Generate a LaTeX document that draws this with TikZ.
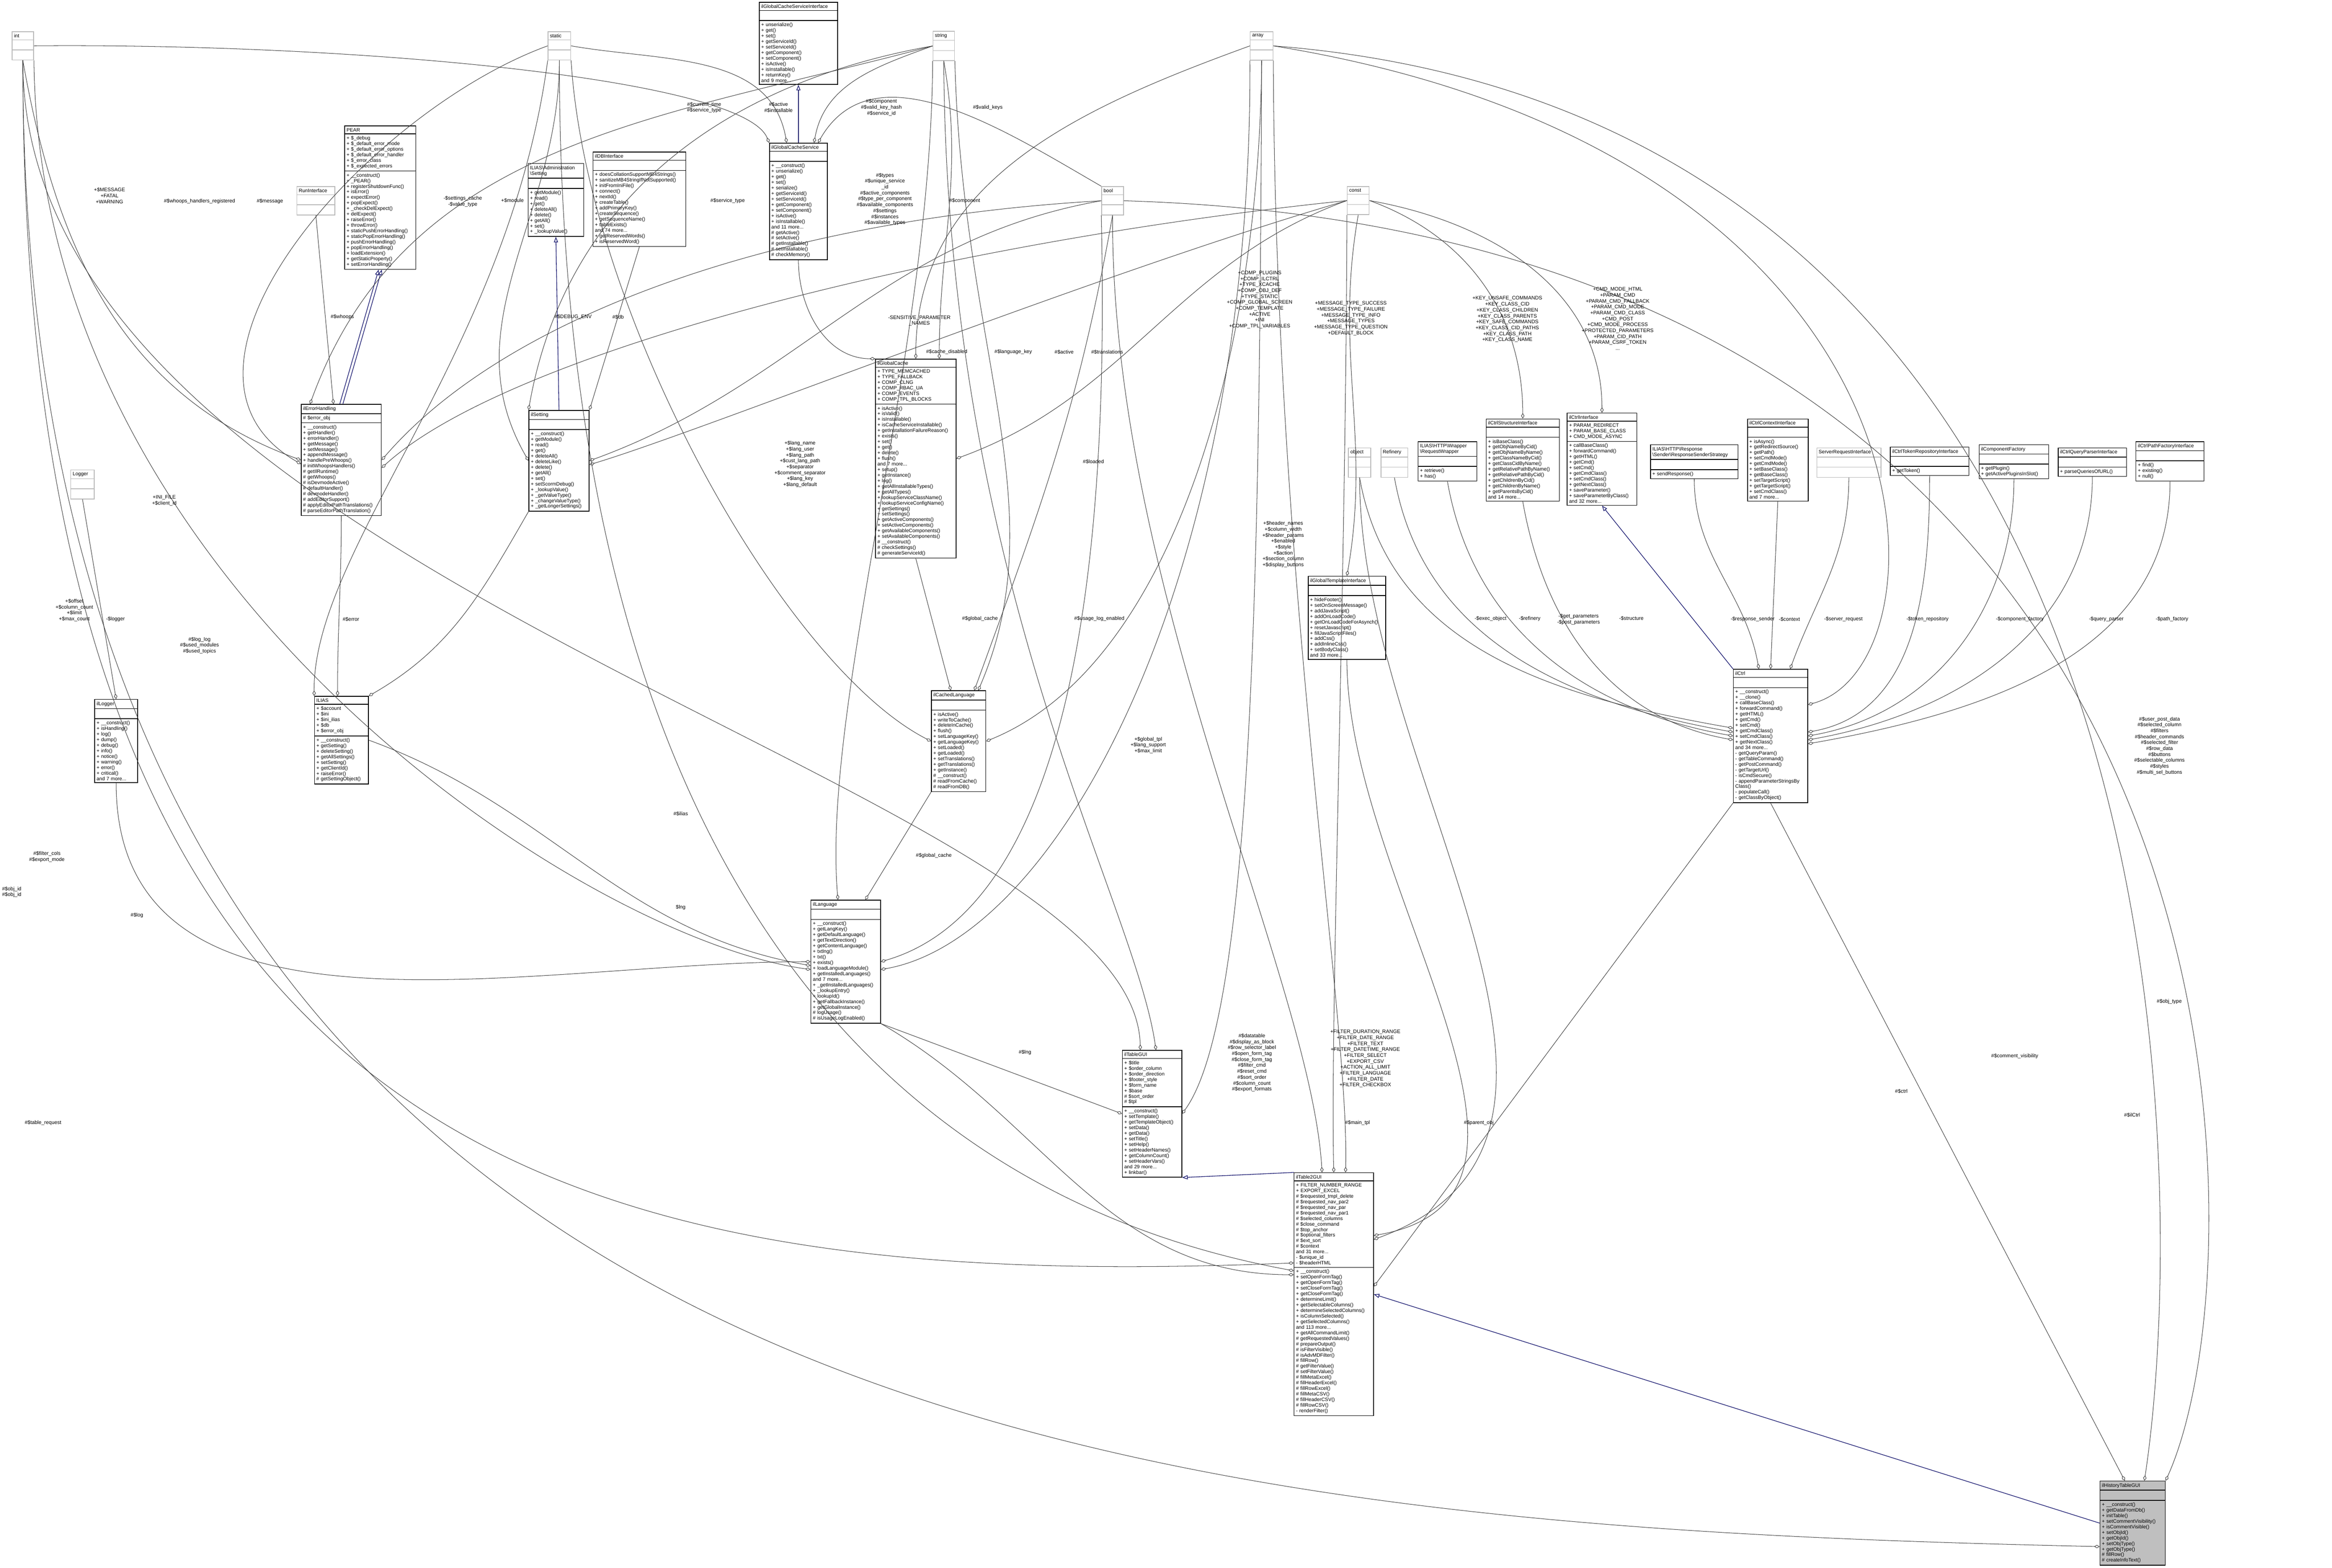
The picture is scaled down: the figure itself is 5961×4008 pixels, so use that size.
\documentclass[tikz,border=0pt]{standalone}
\usepackage{fontspec}
\setmainfont{Liberation Sans}
\usetikzlibrary{shapes.multipart,arrows.meta}
\definecolor{inh}{HTML}{191970}
\tikzset{
  cls/.style={rectangle split,rectangle split parts=3,draw=black,line width=0.5pt,
    anchor=north west,inner sep=1.4pt,font=\fontsize{3.6}{4.05}\selectfont,
    rectangle split part align={center,left,left},fill=white},
  gcls/.style={cls,draw=gray!55},
  agg/.style={draw=black!75,line width=0.35pt,-{Diamond[open,length=4pt,width=2.4pt]}},
  inhe/.style={draw=inh,line width=0.45pt,-{Triangle[open,length=4pt,width=3pt]}},
  lbl/.style={font=\fontsize{3.7}{4.3}\selectfont,align=center,inner sep=0.5pt}
}
\newcommand\cls[7]{\pgfmathsetlengthmacro\tw{#4*0.01cm-2.8pt}%
  \node[cls,text width=\tw] (#1) at (#2,#3) {#5\nodepart{two}#6\nodepart{three}#7};}
\newcommand\gcls[5]{\pgfmathsetlengthmacro\tw{#4*0.01cm-2.8pt}%
  \node[gcls,text width=\tw] (#1) at (#2,#3) {#5\nodepart{two}\strut\nodepart{three}\strut};}
\newcommand\bs{\textbackslash}
\begin{document}
\begin{tikzpicture}[x=0.01cm,y=-0.01cm]
\useasboundingbox (0,0) rectangle (5961,4008);
% ---------- gray type boxes
\gcls{int}{30}{80}{55}{int}
\gcls{static}{1400}{80}{58}{static}
\gcls{string}{2384}{79}{55}{string}
\gcls{array}{3195}{80}{58}{array}
\gcls{bool}{2815}{476}{56}{bool}
\gcls{const}{3443}{476}{56}{const}
\gcls{run}{758}{476}{97}{RunInterface}
\gcls{logger}{180}{1200}{60}{Logger}
\gcls{object}{3446}{1144}{57}{object}
\gcls{refinery}{3529}{1144}{69}{Refinery}
\gcls{server}{4643}{1144}{164}{ServerRequestInterface}
% ---------- classes
\cls{gcsi}{1940}{5}{200}{ilGlobalCacheServiceInterface}{\strut}{+ unserialize()\\+ get()\\+ set()\\+ getServiceId()\\+ setServiceId()\\+ getComponent()\\+ setComponent()\\+ isActive()\\+ isInstallable()\\+ returnKey()\\and 9 more...}
\cls{gcs}{1966}{365}{148}{ilGlobalCacheService}{\strut}{+ \_\_construct()\\+ unserialize()\\+ get()\\+ set()\\+ serialize()\\+ getServiceId()\\+ setServiceId()\\+ getComponent()\\+ setComponent()\\+ isActive()\\+ isInstallable()\\and 11 more...\\\# getActive()\\\# setActive()\\\# getInstallable()\\\# setInstallable()\\\# checkMemory()}
\cls{pear}{880}{321}{182}{PEAR}{+ \$\_debug\\+ \$\_default\_error\_mode\\+ \$\_default\_error\_options\\+ \$\_default\_error\_handler\\+ \$\_error\_class\\+ \$\_expected\_errors}{+ \_\_construct()\\+ \_PEAR()\\+ registerShutdownFunc()\\+ isError()\\+ expectError()\\+ popExpect()\\+ \_checkDelExpect()\\+ delExpect()\\+ raiseError()\\+ throwError()\\+ staticPushErrorHandling()\\+ staticPopErrorHandling()\\+ pushErrorHandling()\\+ popErrorHandling()\\+ loadExtension()\\+ getStaticProperty()\\+ setErrorHandling()}
\cls{admset}{1349}{417}{142}{ILIAS\bs Administration\\\bs Setting}{\strut}{+ getModule()\\+ read()\\+ get()\\+ deleteAll()\\+ delete()\\+ getAll()\\+ set()\\+ \_lookupValue()}
\cls{dbi}{1515}{388}{237}{ilDBInterface}{\strut}{+ doesCollationSupportMB4Strings()\\+ sanitizeMB4StringIfNotSupported()\\+ initFromIniFile()\\+ connect()\\+ nextId()\\+ createTable()\\+ addPrimaryKey()\\+ createSequence()\\+ getSequenceName()\\+ tableExists()\\and 74 more...\\+ getReservedWords()\\+ isReservedWord()}
\cls{err}{769}{1033}{205}{ilErrorHandling}{\# \$error\_obj}{+ \_\_construct()\\+ getHandler()\\+ errorHandler()\\+ getMessage()\\+ setMessage()\\+ appendMessage()\\+ handlePreWhoops()\\\# initWhoopsHandlers()\\\# getIlRuntime()\\\# getWhoops()\\\# isDevmodeActive()\\\# defaultHandler()\\\# devmodeHandler()\\\# addEditorSupport()\\\# applyEditorPathTranslations()\\\# parseEditorPathTranslation()}
\cls{set}{1351}{1048}{154}{ilSetting}{\strut}{+ \_\_construct()\\+ getModule()\\+ read()\\+ get()\\+ deleteAll()\\+ deleteLike()\\+ delete()\\+ getAll()\\+ set()\\+ setScormDebug()\\+ \_lookupValue()\\+ \_getValueType()\\+ \_changeValueType()\\+ \_getLongerSettings()}
\cls{gc}{2237}{917}{206}{ilGlobalCache}{+ TYPE\_MEMCACHED\\+ TYPE\_FALLBACK\\+ COMP\_CLNG\\+ COMP\_RBAC\_UA\\+ COMP\_EVENTS\\+ COMP\_TPL\_BLOCKS}{+ isActive()\\+ isValid()\\+ isInstallable()\\+ isCacheServiceInstallable()\\+ getInstallationFailureReason()\\+ exists()\\+ set()\\+ get()\\+ delete()\\+ flush()\\and 7 more...\\+ setup()\\+ getInstance()\\+ log()\\+ getAllInstallableTypes()\\+ getAllTypes()\\+ lookupServiceClassName()\\+ lookupServiceConfigName()\\+ getSettings()\\+ setSettings()\\+ getActiveComponents()\\+ setActiveComponents()\\+ getAvailableComponents()\\+ setAvailableComponents()\\\# \_\_construct()\\\# checkSettings()\\\# generateServiceId()}
\cls{logr}{241}{1787}{110}{ilLogger}{\strut}{+ \_\_construct()\\+ isHandling()\\+ log()\\+ dump()\\+ debug()\\+ info()\\+ notice()\\+ warning()\\+ error()\\+ critical()\\and 7 more...}
\cls{ilias}{803}{1779}{138}{ILIAS}{+ \$account\\+ \$ini\\+ \$ini\_ilias\\+ \$db\\+ \$error\_obj}{+ \_\_construct()\\+ getSetting()\\+ deleteSetting()\\+ getAllSettings()\\+ setSetting()\\+ getClientId()\\+ raiseError()\\\# getSettingObject()}
\cls{clang}{2380}{1765}{139}{ilCachedLanguage}{\strut}{+ isActive()\\+ writeToCache()\\+ deleteInCache()\\+ flush()\\+ setLanguageKey()\\+ getLanguageKey()\\+ setLoaded()\\+ getLoaded()\\+ setTranslations()\\+ getTranslations()\\+ getInstance()\\\# \_\_construct()\\\# readFromCache()\\\# readFromDB()}
\cls{lang}{2072}{2300}{178}{ilLanguage}{\strut}{+ \_\_construct()\\+ getLangKey()\\+ getDefaultLanguage()\\+ getTextDirection()\\+ getContentLanguage()\\+ txtlng()\\+ txt()\\+ exists()\\+ loadLanguageModule()\\+ getInstalledLanguages()\\and 7 more...\\+ \_getInstalledLanguages()\\+ \_lookupEntry()\\+ lookupId()\\+ getFallbackInstance()\\+ getGlobalInstance()\\\# logUsage()\\\# isUsageLogEnabled()}
\cls{tgui}{2868}{2684}{152}{ilTableGUI}{+ \$title\\+ \$order\_column\\+ \$order\_direction\\+ \$footer\_style\\+ \$form\_name\\+ \$base\\\# \$sort\_order\\\# \$tpl}{+ \_\_construct()\\+ setTemplate()\\+ getTemplateObject()\\+ setData()\\+ getData()\\+ setTitle()\\+ setHelp()\\+ setHeaderNames()\\+ getColumnCount()\\+ setHeaderVars()\\and 29 more...\\+ linkbar()}
\cls{t2gui}{3307}{2997}{203}{ilTable2GUI}{+ FILTER\_NUMBER\_RANGE\\+ EXPORT\_EXCEL\\\# \$requested\_tmpl\_delete\\\# \$requested\_nav\_par2\\\# \$requested\_nav\_par\\\# \$requested\_nav\_par1\\\# \$selected\_columns\\\# \$close\_command\\\# \$top\_anchor\\\# \$optional\_filters\\\# \$ext\_sort\\\# \$context\\and 31 more...\\- \$unique\_id\\- \$headerHTML}{+ \_\_construct()\\+ setOpenFormTag()\\+ getOpenFormTag()\\+ setCloseFormTag()\\+ getCloseFormTag()\\+ determineLimit()\\+ getSelectableColumns()\\+ determineSelectedColumns()\\+ isColumnSelected()\\+ getSelectedColumns()\\and 113 more...\\+ getAllCommandLimit()\\\# getRequestedValues()\\\# prepareOutput()\\\# isFilterVisible()\\\# isAdvMDFilter()\\\# fillRow()\\\# getFilterValue()\\\# setFilterValue()\\\# fillMetaExcel()\\\# fillHeaderExcel()\\\# fillRowExcel()\\\# fillMetaCSV()\\\# fillHeaderCSV()\\\# fillRowCSV()\\- renderFilter()}
\cls{gti}{3343}{1472}{198}{ilGlobalTemplateInterface}{\strut}{+ hideFooter()\\+ setOnScreenMessage()\\+ addJavaScript()\\+ addOnLoadCode()\\+ getOnLoadCodeForAsynch()\\+ resetJavascript()\\+ fillJavaScriptFiles()\\+ addCss()\\+ addInlineCss()\\+ setBodyClass()\\and 33 more...}
\cls{reqw}{3624}{1128}{150}{ILIAS\bs HTTP\bs Wrapper\\\bs RequestWrapper}{\strut}{+ retrieve()\\+ has()}
\cls{csi}{3798}{1070}{187}{ilCtrlStructureInterface}{\strut}{+ isBaseClass()\\+ getObjNameByCid()\\+ getObjNameByName()\\+ getClassNameByCid()\\+ getClassCidByName()\\+ getRelativePathByName()\\+ getRelativePathByCid()\\+ getChildrenByCid()\\+ getChildrenByName()\\+ getParentsByCid()\\and 14 more...}
\cls{cif}{4005}{1055}{178}{ilCtrlInterface}{+ PARAM\_REDIRECT\\+ PARAM\_BASE\_CLASS\\+ CMD\_MODE\_ASYNC}{+ callBaseClass()\\+ forwardCommand()\\+ getHTML()\\+ getCmd()\\+ setCmd()\\+ getCmdClass()\\+ setCmdClass()\\+ getNextClass()\\+ saveParameter()\\+ saveParameterByClass()\\and 32 more...}
\cls{resp}{4218}{1136}{224}{ILIAS\bs HTTP\bs Response\\\bs Sender\bs ResponseSenderStrategy}{\strut}{+ sendResponse()}
\cls{ctx}{4466}{1070}{155}{ilCtrlContextInterface}{\strut}{+ isAsync()\\+ getRedirectSource()\\+ getPath()\\+ setCmdMode()\\+ getCmdMode()\\+ setBaseClass()\\+ getBaseClass()\\+ setTargetScript()\\+ getTargetScript()\\+ setCmdClass()\\and 7 more...}
\cls{tok}{4831}{1142}{201}{ilCtrlTokenRepositoryInterface}{\strut}{+ getToken()}
\cls{cfac}{5058}{1136}{178}{ilComponentFactory}{\strut}{+ getPlugin()\\+ getActivePluginsInSlot()}
\cls{qp}{5260}{1144}{175}{ilCtrlQueryParserInterface}{\strut}{+ parseQueriesOfURL()}
\cls{pf}{5459}{1128}{174}{ilCtrlPathFactoryInterface}{\strut}{+ find()\\+ existing()\\+ null()}
\cls{ctrl}{4430}{1710}{190}{ilCtrl}{\strut}{+ \_\_construct()\\+ \_\_clone()\\+ callBaseClass()\\+ forwardCommand()\\+ getHTML()\\+ getCmd()\\+ setCmd()\\+ getCmdClass()\\+ setCmdClass()\\+ getNextClass()\\and 34 more...\\- getQueryParam()\\- getTableCommand()\\- getPostCommand()\\- getTargetUrl()\\- isCmdSecure()\\- appendParameterStringsBy\\Class()\\- populateCall()\\- getClassByObject()}
\pgfmathsetlengthmacro\tw{167*0.01cm-2.8pt}
\node[cls,fill=black!25,text width=\tw] (hist) at (5367,3785) {ilHistoryTableGUI\nodepart{two}\strut\nodepart{three}+ \_\_construct()\\+ getDataFromDb()\\+ initTable()\\+ setCommentVisibility()\\+ isCommentVisible()\\+ setObjId()\\+ getObjId()\\+ setObjType()\\+ getObjType()\\\# fillRow()\\\# createInfoText()};
% ---------- inheritance
\draw[inhe] (gcs.north) -- (gcsi.south);
\draw[inhe] ([xshift=-0.04cm]err.north) -- ([xshift=-0.04cm]pear.south);
\draw[inhe] ([xshift=0.04cm]err.north) -- ([xshift=0.04cm]pear.south);
\draw[inhe] (set.north) -- (admset.south);
\draw[inhe] (t2gui.north west) -- (tgui.south east);
\draw[inhe] (ctrl.north west) -- (cif.south);
\draw[inhe] (hist.west) -- (t2gui.east);
% ---------- aggregations: top area
\draw[agg] (int.east) .. controls (900,110) and (1900,200) .. (gcs.north west);
\draw[agg] (static.east) to[out=-10,in=100] ([xshift=-0.3cm]gcs.north);
\draw[agg] (string.west) to[out=200,in=80] ([xshift=0.4cm]gcs.north);
\draw[agg] (bool.north west) to[out=150,in=60] ([xshift=0.5cm]gcs.north);
\draw[agg] (gcs.south) to[out=-90,in=180] (gc.north west);
\draw[agg] (array.west) to[out=200,in=90] (gc.north);
\draw[agg] (string.south) to[out=-80,in=90] ([xshift=0.6cm]gc.north);
\draw[agg] (const.west) to[out=200,in=20] (gc.east);
\draw[agg] (string.west) to[out=190,in=80] (set.north west);
\draw[agg] (static.south) to[out=-90,in=120] (set.west);
\draw[agg] (dbi.south) -- (set.north east);
\draw[agg] (bool.west) to[out=190,in=20] (set.east);
\draw[agg] (const.west) .. controls (2800,700) and (1800,1100) .. ([yshift=-0.1cm]set.east);
\draw[agg] (run.south) -- ([xshift=-0.2cm]err.north);
\draw[agg] (int.south) to[out=-80,in=160] (err.west);
\draw[agg] (string.west) to[out=195,in=70] ([xshift=-0.8cm]err.north);
\draw[agg] (static.west) to[out=200,in=150] ([yshift=-0.1cm]err.west);
\draw[agg] (bool.west) .. controls (2000,560) and (1300,800) .. (err.east);
\draw[agg] (const.west) .. controls (2400,620) and (1300,900) .. ([yshift=-0.2cm]err.east);
% ---------- left middle
\draw[agg] (err.south) to[out=-90,in=90] ([xshift=-0.1cm]ilias.north);
\draw[agg] (set.south west) to[out=-120,in=30] (ilias.north east);
\draw[agg] (static.south west) .. controls (1300,900) and (800,1400) .. (ilias.north west);
\draw[agg] (logger.south) -- (logr.north);
\draw[agg] (logr.south) to[out=-90,in=180] (lang.west);
\draw[agg] (ilias.east) to[out=-20,in=170] ([yshift=-0.1cm]lang.west);
\draw[agg] (int.south east) .. controls (100,1500) and (1500,2400) .. ([yshift=-0.2cm]lang.west);
\draw[agg] (gc.south) -- ([xshift=-0.2cm]clang.north);
\draw[agg] (bool.south) to[out=-100,in=70] ([xshift=0.4cm]clang.north);
\draw[agg] (string.south east) .. controls (2460,900) and (2700,1300) .. ([xshift=0.5cm]clang.north);
\draw[agg] (static.south east) .. controls (1500,800) and (2000,1700) .. (clang.west);
\draw[agg] (array.south) .. controls (3220,900) and (3000,1700) .. (clang.east);
\draw[agg] (clang.south west) -- ([xshift=0.5cm]lang.north);
\draw[agg] (string.south west) .. controls (2380,900) and (2100,1800) .. ([xshift=-0.2cm]lang.north);
\draw[agg] (bool.south west) .. controls (2830,1200) and (2800,2300) .. (lang.east);
\draw[agg] (array.south west) .. controls (3200,1500) and (2700,2400) .. ([yshift=-0.2cm]lang.east);
% ---------- tables
\draw[agg] (int.south) .. controls (57,1500) and (2900,2000) .. ([xshift=-0.3cm]tgui.north);
\draw[agg] (string.south) .. controls (2420,1500) and (2900,2300) .. ([xshift=0.1cm]tgui.north);
\draw[agg] (array.south) .. controls (3220,1500) and (3200,2600) .. (tgui.east);
\draw[agg] (lang.south east) -- (tgui.west);
\draw[agg] (bool.south) .. controls (2840,1500) and (3350,2500) .. ([xshift=-0.3cm]t2gui.north);
\draw[agg] (const.south west) .. controls (3440,1500) and (3400,2600) .. (t2gui.north);
\draw[agg] (array.south east) .. controls (3260,1500) and (3450,2600) .. ([xshift=0.3cm]t2gui.north);
\draw[agg] (gti.south) to[out=-90,in=10] ([yshift=1.5cm]t2gui.east);
\draw[agg] (object.south) to[out=-90,in=20] ([yshift=1.4cm]t2gui.east);
\draw[agg] (ctrl.south west) -- ([yshift=0.2cm]t2gui.east);
\draw[agg] (lang.south east) to[out=-30,in=180] ([yshift=0.5cm]t2gui.west);
\draw[agg] (int.south) .. controls (57,3000) and (1500,3300) .. ([yshift=0.8cm]t2gui.west);
\draw[agg] (static.south) .. controls (1430,2500) and (2500,3100) .. ([yshift=0.6cm]t2gui.west);
% ---------- ilCtrl
\draw[agg] (object.south) to[out=-80,in=170] ([yshift=0.2cm]ctrl.west);
\draw[agg] (refinery.south) to[out=-80,in=170] ([yshift=0.1cm]ctrl.west);
\draw[agg] (reqw.south) to[out=-80,in=170] (ctrl.west);
\draw[agg] (csi.south) to[out=-80,in=170] ([yshift=-0.1cm]ctrl.west);
\draw[agg] (resp.south) to[out=-90,in=100] ([xshift=-0.3cm]ctrl.north);
\draw[agg] (ctx.south) -- (ctrl.north);
\draw[agg] (server.south) to[out=-90,in=70] ([xshift=0.5cm]ctrl.north);
\draw[agg] (tok.south) to[out=-90,in=10] ([yshift=0.1cm]ctrl.east);
\draw[agg] (cfac.south) to[out=-90,in=10] (ctrl.east);
\draw[agg] (qp.south) to[out=-90,in=10] ([yshift=-0.1cm]ctrl.east);
\draw[agg] (pf.south) to[out=-90,in=10] ([yshift=-0.2cm]ctrl.east);
\draw[agg] (const.east) to[out=-20,in=90] (csi.north);
\draw[agg] (const.east) to[out=-10,in=90] (cif.north);
\draw[agg] (const.south) to[out=-100,in=80] (gti.north);
\draw[agg] (array.east) .. controls (5000,400) and (5000,1700) .. ([yshift=0.8cm]ctrl.east);
% ---------- ilHistoryTableGUI
\draw[agg] (ctrl.south) -- ([xshift=-0.2cm]hist.north);
\draw[agg] (int.south) .. controls (57,3700) and (3000,3900) .. ([yshift=-0.6cm]hist.west);
\draw[agg] (array.east) .. controls (5600,300) and (5600,3000) .. ([xshift=0.3cm]hist.north);
\draw[agg] (bool.east) .. controls (5800,600) and (5800,3200) .. (hist.north east);
% ---------- labels
\node[lbl] at (1800,275) {\#\$current\_time\\\#\$service\_type};
\node[lbl] at (1990,275) {\#\$active\\\#\$installable};
\node[lbl] at (2253,275) {\#\$component\\\#\$valid\_key\_hash\\\#\$service\_id};
\node[lbl] at (2525,275) {\#\$valid\_keys};
\node[lbl,anchor=north] at (2262,440) {\#\$types\\\#\$unique\_service\\\_id\\\#\$active\_components\\\#\$type\_per\_component\\\#\$available\_components\\\#\$settings\\\#\$instances\\\#\$available\_types};
\node[lbl] at (2466,513) {\#\$component};
\node[lbl] at (1860,513) {\#\$service\_type};
\node[lbl] at (280,500) {+\$MESSAGE\\+FATAL\\+WARNING};
\node[lbl] at (510,515) {\#\$whoops\_handlers\_registered};
\node[lbl] at (690,515) {\#\$message};
\node[lbl] at (1183,515) {-\$settings\_cache\\-\$value\_type};
\node[lbl] at (1310,512) {+\$module};
\node[lbl] at (875,810) {\#\$whoops};
\node[lbl] at (1465,810) {\#\$DEBUG\_ENV};
\node[lbl] at (1580,810) {\#\$db};
\node[lbl] at (2350,820) {-SENSITIVE\_PARAMETER\\\_NAMES};
\node[lbl,anchor=north] at (3220,690) {+COMP\_PLUGINS\\+COMP\_ILCTRL\\+TYPE\_XCACHE\\+COMP\_OBJ\_DEF\\+TYPE\_STATIC\\+COMP\_GLOBAL\_SCREEN\\+COMP\_TEMPLATE\\+ACTIVE\\+INI\\+COMP\_TPL\_VARIABLES};
\node[lbl,anchor=north] at (3453,768) {+MESSAGE\_TYPE\_SUCCESS\\+MESSAGE\_TYPE\_FAILURE\\+MESSAGE\_TYPE\_INFO\\+MESSAGE\_TYPES\\+MESSAGE\_TYPE\_QUESTION\\+DEFAULT\_BLOCK};
\node[lbl,anchor=north] at (3853,755) {+KEY\_UNSAFE\_COMMANDS\\+KEY\_CLASS\_CID\\+KEY\_CLASS\_CHILDREN\\+KEY\_CLASS\_PARENTS\\+KEY\_SAFE\_COMMANDS\\+KEY\_CLASS\_CID\_PATHS\\+KEY\_CLASS\_PATH\\+KEY\_CLASS\_NAME};
\node[lbl,anchor=north] at (4135,732) {+CMD\_MODE\_HTML\\+PARAM\_CMD\\+PARAM\_CMD\_FALLBACK\\+PARAM\_CMD\_MODE\\+PARAM\_CMD\_CLASS\\+CMD\_POST\\+CMD\_MODE\_PROCESS\\+PROTECTED\_PARAMETERS\\+PARAM\_CID\_PATH\\+PARAM\_CSRF\_TOKEN\\...};
\node[lbl] at (2420,900) {\#\$cache\_disabled};
\node[lbl] at (2590,900) {\#\$language\_key};
\node[lbl] at (2720,900) {\#\$active};
\node[lbl] at (2830,900) {\#\$translations};
\node[lbl] at (420,1280) {+INI\_FILE\\+\$client\_id};
\node[lbl] at (510,1650) {\#\$log\_log\\\#\$used\_modules\\\#\$used\_topics};
\node[lbl] at (190,1560) {+\$offset\\+\$column\_count\\+\$limit\\+\$max\_count};
\node[lbl] at (295,1583) {-\$logger};
\node[lbl] at (897,1583) {\#\$error};
\node[lbl] at (120,2190) {\#\$filter\_cols\\\#\$export\_mode};
\node[lbl,anchor=north] at (2045,1125) {+\$lang\_name\\+\$lang\_user\\+\$lang\_path\\+\$cust\_lang\_path\\+\$separator\\+\$comment\_separator\\+\$lang\_key\\+\$lang\_default};
\node[lbl] at (2505,1582) {\#\$global\_cache};
\node[lbl] at (2795,1180) {\#\$loaded};
\node[lbl] at (2810,1582) {\#\$usage\_log\_enabled};
\node[lbl] at (2387,2187) {\#\$global\_cache};
\node[lbl] at (2935,1905) {+\$global\_tpl\\+\$lang\_support\\+\$max\_limit};
\node[lbl] at (1740,2080) {\#\$ilias};
\node[lbl] at (350,2340) {\#\$log};
\node[lbl] at (2620,2690) {\#\$lng};
\node[lbl] at (1740,2320) {\$lng};
\node[lbl,anchor=north] at (3280,1330) {+\$header\_names\\+\$column\_width\\+\$header\_params\\+\$enabled\\+\$style\\+\$action\\+\$section\_column\\+\$display\_buttons};
\node[lbl,anchor=north] at (3200,2640) {\#\$datatable\\\#\$display\_as\_block\\\#\$row\_selector\_label\\\#\$open\_form\_tag\\\#\$close\_form\_tag\\\#\$filter\_cmd\\\#\$reset\_cmd\\\#\$sort\_order\\\#\$column\_count\\\#\$export\_formats};
\node[lbl,anchor=north] at (3490,2630) {+FILTER\_DURATION\_RANGE\\+FILTER\_DATE\_RANGE\\+FILTER\_TEXT\\+FILTER\_DATETIME\_RANGE\\+FILTER\_SELECT\\+EXPORT\_CSV\\+ACTION\_ALL\_LIMIT\\+FILTER\_LANGUAGE\\+FILTER\_DATE\\+FILTER\_CHECKBOX};
\node[lbl] at (3470,2870) {\#\$main\_tpl};
\node[lbl] at (3780,2870) {\#\$parent\_obj};
\node[lbl] at (4860,2790) {\#\$ctrl};
\node[lbl] at (5450,2850) {\#\$ilCtrl};
\node[lbl] at (5545,2560) {\#\$obj\_type};
\node[lbl] at (5150,2700) {\#\$comment\_visibility};
\node[lbl,anchor=north] at (5520,1830) {\#\$user\_post\_data\\\#\$selected\_column\\\#\$filters\\\#\$header\_commands\\\#\$selected\_filter\\\#\$row\_data\\\#\$buttons\\\#\$selectable\_columns\\\#\$styles\\\#\$multi\_sel\_buttons};
\node[lbl] at (30,2280) {\#\$obj\_id\\\#\$obj\_id};
\node[lbl] at (110,2870) {\#\$table\_request};
\node[lbl] at (3810,1581) {-\$exec\_object};
\node[lbl] at (3910,1581) {-\$refinery};
\node[lbl] at (4035,1583) {-\$get\_parameters\\-\$post\_parameters};
\node[lbl] at (4170,1581) {-\$structure};
\node[lbl] at (4480,1583) {-\$response\_sender};
\node[lbl] at (4574,1583) {-\$context};
\node[lbl] at (4712,1583) {-\$server\_request};
\node[lbl] at (4927,1583) {-\$token\_repository};
\node[lbl] at (5163,1583) {-\$component\_factory};
\node[lbl] at (5384,1583) {-\$query\_parser};
\node[lbl] at (5552,1583) {-\$path\_factory};
\end{tikzpicture}
\end{document}
